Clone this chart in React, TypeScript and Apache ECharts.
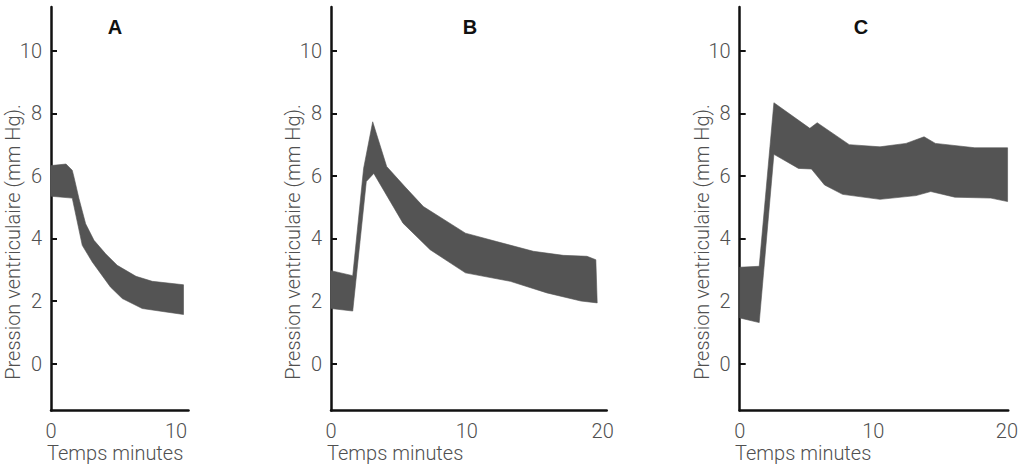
import React, { useEffect, useRef } from "react";
import * as echarts from "echarts";

// Panel A
const aUpperX = [0, 1.2, 1.7, 1.84, 2.24, 2.77, 3.44, 4.37, 5.3, 6.8, 8.1, 10.6];
const aUpperY = [6.33, 6.38, 6.18, 5.96, 5.27, 4.47, 3.94, 3.51, 3.14, 2.79, 2.63, 2.52];
const aLowerX = [0, 1.7, 2.5, 3.3, 4.75, 5.7, 7.3, 9.2, 10.6];
const aLowerY = [5.35, 5.29, 3.78, 3.25, 2.45, 2.08, 1.76, 1.65, 1.57];

// Panel B
const bUpperX = [0, 1.6, 2.4, 3.07, 4.1, 5.45, 6.8, 9.9, 12.2, 14.9, 17.1, 18.85, 19.5];
const bUpperY = [2.97, 2.81, 6.24, 7.73, 6.3, 5.65, 5.02, 4.17, 3.9, 3.59, 3.46, 3.43, 3.32];
const bLowerX = [0, 1.6, 2.6, 3.15, 5.3, 7.3, 9.9, 13.2, 15.9, 18.4, 19.6];
const bLowerY = [1.76, 1.68, 5.82, 6.08, 4.49, 3.64, 2.9, 2.63, 2.26, 2.0, 1.94];

// Panel C
const cUpperX = [0, 1.46, 2.56, 5.25, 5.8, 8.2, 10.5, 12.45, 13.8, 14.65, 17.6, 20.05];
const cUpperY = [3.08, 3.11, 8.34, 7.52, 7.7, 7.0, 6.93, 7.04, 7.25, 7.04, 6.9, 6.9];
const cLowerX = [0, 1.46, 2.56, 4.4, 5.37, 6.35, 7.7, 10.5, 13.2, 14.3, 16.1, 18.8, 20.05];
const cLowerY = [1.46, 1.31, 6.69, 6.24, 6.22, 5.71, 5.41, 5.25, 5.37, 5.5, 5.32, 5.29, 5.18];

const yTicks = [0, 2, 4, 6, 8, 10];
const xTicksA = [0, 10];
const xTicksBC = [0, 10, 20];
const panelTitles = ["A", "B", "C"];
const yName = "Pression ventriculaire (mm Hg).";
const xName = "Temps minutes";

const FILL = "#545454";
const AXIS = "#111";
const TEXT = "#505050";
const FONT = "Roboto";

function band(ux: number[], uy: number[], lx: number[], ly: number[]) {
  return (params: any, api: any) => {
    const pts: number[][] = [];
    for (let i = 0; i < ux.length; i++) pts.push(api.coord([ux[i], uy[i]]));
    for (let i = lx.length - 1; i >= 0; i--) pts.push(api.coord([lx[i], ly[i]]));
    return {
      type: "polygon",
      shape: { points: pts },
      style: { fill: FILL, stroke: FILL, lineWidth: 0.6 },
    };
  };
}

export default function App() {
  const ref = useRef<HTMLDivElement>(null);
  useEffect(() => {
    if (!ref.current) return;
    const chart = echarts.init(ref.current, null, { renderer: "svg" });
    const grids = [
      { left: 51, top: 7, width: 137.5, height: 403.5 },
      { left: 331, top: 7, width: 275.7, height: 403.5 },
      { left: 739.7, top: 7, width: 272.6, height: 403.5 },
    ];
    const xMax = [11, 20.3, 20.1];
    const xTickSets = [xTicksA, xTicksBC, xTicksBC];
    const axisLine = { show: true, onZero: false, lineStyle: { color: AXIS, width: 2.5 } };
    const labelStyle = {
      color: TEXT,
      fontSize: 20,
      fontFamily: FONT,
      fontWeight: 300,
    };
    const xAxis = grids.map((g, i) => ({
      type: "value",
      gridIndex: i,
      min: 0,
      max: xMax[i],
      axisLine,
      axisTick: { show: false },
      splitLine: { show: false },
      axisLabel: { customValues: xTickSets[i], margin: 10, ...labelStyle },
    }));
    const yAxis = grids.map((g, i) => ({
      type: "value",
      gridIndex: i,
      min: -1.5,
      max: 11.4,
      axisLine,
      axisTick: {
        show: true,
        inside: true,
        length: 6,
        customValues: yTicks,
        lineStyle: { color: AXIS, width: 2 },
      },
      splitLine: { show: false },
      axisLabel: { customValues: yTicks, margin: 9, ...labelStyle },
    }));
    const bands = [
      [aUpperX, aUpperY, aLowerX, aLowerY],
      [bUpperX, bUpperY, bLowerX, bLowerY],
      [cUpperX, cUpperY, cLowerX, cLowerY],
    ];
    const series = bands.map((b, i) => ({
      type: "custom",
      xAxisIndex: i,
      yAxisIndex: i,
      silent: true,
      clip: false,
      data: [[b[0][0], b[1][0]]],
      renderItem: band(b[0], b[1], b[2], b[3]),
    }));
    const titleX = [115, 470, 861];
    const nameX = [13, 293, 702];
    const xNameX = [47, 327, 735];
    const graphic: any[] = [];
    panelTitles.forEach((t, i) => {
      graphic.push({
        type: "text",
        x: titleX[i],
        y: 27,
        style: {
          text: t,
          fill: "#111",
          fontFamily: "Liberation Sans",
          fontWeight: "bold",
          fontSize: 20,
          textAlign: "center",
          textVerticalAlign: "middle",
        },
      });
      graphic.push({
        type: "text",
        x: nameX[i],
        y: 242,
        rotation: Math.PI / 2,
        style: {
          text: yName,
          fill: TEXT,
          fontFamily: FONT,
          fontWeight: 300,
          fontSize: 20,
          textAlign: "center",
          textVerticalAlign: "middle",
        },
      });
      graphic.push({
        type: "text",
        x: xNameX[i],
        y: 453,
        style: {
          text: xName,
          fill: TEXT,
          fontFamily: FONT,
          fontWeight: 300,
          fontSize: 20,
          textAlign: "left",
          textVerticalAlign: "middle",
        },
      });
    });
    chart.setOption({
      animation: false,
      backgroundColor: "#fff",
      grid: grids,
      xAxis,
      yAxis,
      series,
      graphic,
    });
    return () => chart.dispose();
  }, []);
  return (
    <div
      ref={ref}
      style={{ position: "fixed", left: 0, top: 0, width: 1021, height: 473 }}
    />
  );
}
